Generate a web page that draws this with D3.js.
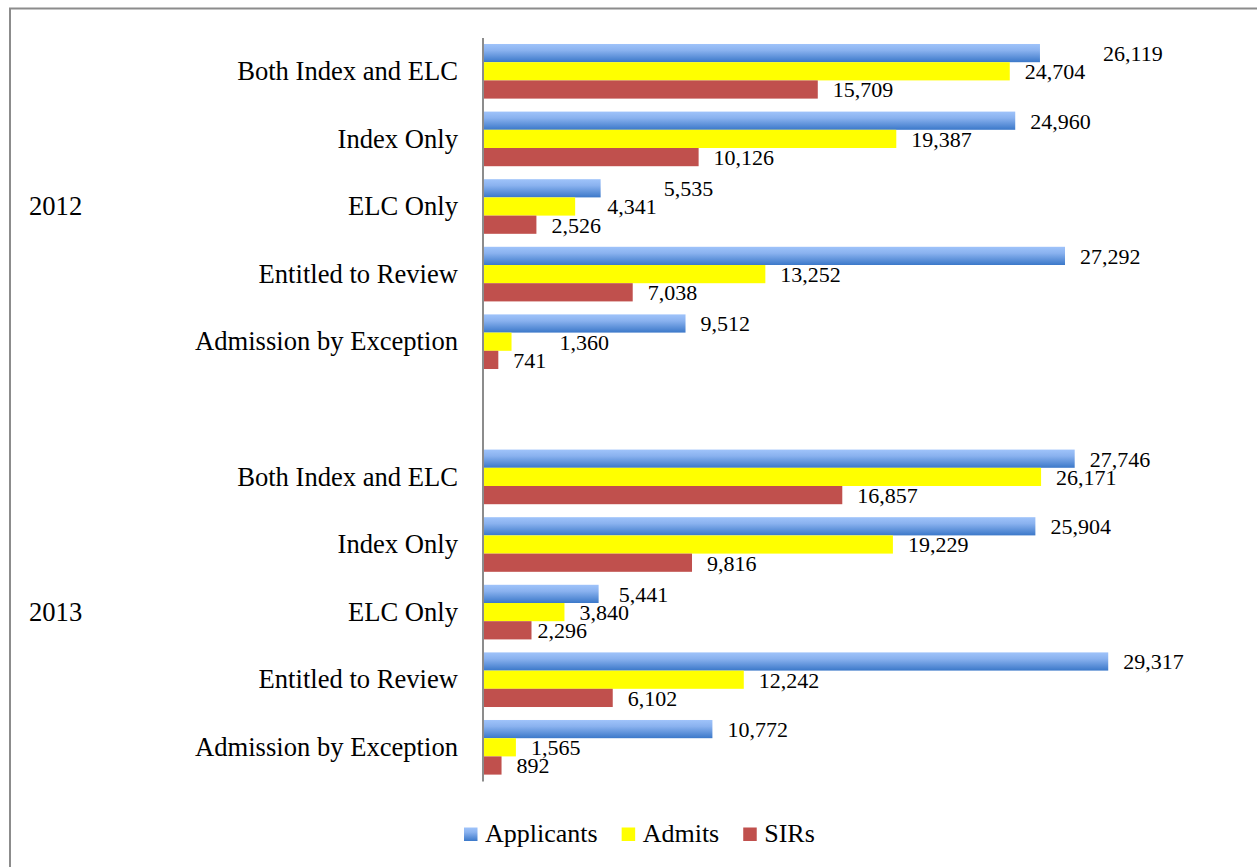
<!DOCTYPE html>
<html>
<head>
<meta charset="utf-8">
<script src="https://cdn.jsdelivr.net/npm/d3@7"></script>
<style>
  html, body { margin: 0; padding: 0; background: #fff; }
  svg { display: block; }
  text { font-family: "Liberation Serif", "Times New Roman", serif; fill: #000; }
</style>
</head>
<body>
<svg id="chart" width="1257" height="867"></svg>
<script>
// ---- data ----
const groups = ["2012", "2013"];
const categories = ["Both Index and ELC", "Index Only", "ELC Only", "Entitled to Review", "Admission by Exception"];
const seriesNames = ["Applicants", "Admits", "SIRs"];

const applicants2012 = [26119, 24960, 5535, 27292, 9512];
const admits2012     = [24704, 19387, 4341, 13252, 1360];
const sirs2012       = [15709, 10126, 2526, 7038, 741];

const applicants2013 = [27746, 25904, 5441, 29317, 10772];
const admits2013     = [26171, 19229, 3840, 12242, 1565];
const sirs2013       = [16857, 9816, 2296, 6102, 892];

const valuesByGroup = {
  "2012": [applicants2012, admits2012, sirs2012],
  "2013": [applicants2013, admits2013, sirs2013]
};

// ---- build rows ----
const slotKeys = [];
categories.forEach(c => slotKeys.push("2012|" + c));
slotKeys.push("gap|");
categories.forEach(c => slotKeys.push("2013|" + c));

const rows = [];
groups.forEach(g => {
  categories.forEach((c, i) => {
    seriesNames.forEach((s, j) => {
      rows.push({ group: g, category: c, series: s, value: valuesByGroup[g][j][i], key: g + "|" + c });
    });
  });
});

// manual label adjustments (as in the original chart, where some labels were dragged)
const labelNudges = {
  "2012|Both Index and ELC|Applicants": 48,
  "2012|ELC Only|Applicants": 48,
  "2012|ELC Only|Admits": 17,
  "2012|Admission by Exception|Admits": 33,
  "2013|ELC Only|Applicants": 5,
  "2013|ELC Only|SIRs": -9
};

// ---- layout ----
const svg = d3.select("#chart");

// outer frame
svg.append("rect")
  .attr("x", 10).attr("y", 8.5)
  .attr("width", 1300).attr("height", 900)
  .attr("fill", "none").attr("stroke", "#8c8c8c").attr("stroke-width", 2);

const x = d3.scaleLinear().domain([0, 30000]).range([482.5, 1122.8]);
const y = d3.scaleBand().domain(slotKeys).range([37.5, 781.1]).paddingInner(0.192).paddingOuter(0.096);
const ySub = d3.scaleBand().domain(seriesNames).range([0, y.bandwidth()]);

const defs = svg.append("defs");
const grad = defs.append("linearGradient").attr("id", "blueGrad")
  .attr("x1", 0).attr("y1", 0).attr("x2", 0).attr("y2", 1);
grad.append("stop").attr("offset", "0%").attr("stop-color", "#9fc3fa");
grad.append("stop").attr("offset", "35%").attr("stop-color", "#8ab2ef");
grad.append("stop").attr("offset", "100%").attr("stop-color", "#3b78c9");

const color = d3.scaleOrdinal().domain(seriesNames).range(["url(#blueGrad)", "#ffff00", "#c0504d"]);

// bars
svg.append("g").selectAll("rect")
  .data(rows)
  .join("rect")
  .attr("x", x(0))
  .attr("y", d => y(d.key) + ySub(d.series))
  .attr("width", d => x(d.value) - x(0))
  .attr("height", ySub.bandwidth())
  .attr("fill", d => color(d.series));

// value labels
const fmt = d3.format(",");
svg.append("g").selectAll("text")
  .data(rows)
  .join("text")
  .attr("x", d => x(d.value) + 15 + (labelNudges[d.group + "|" + d.category + "|" + d.series] || 0))
  .attr("y", d => y(d.key) + ySub(d.series) + ySub.bandwidth() / 2)
  .attr("dy", "0.36em")
  .style("font-size", "22px")
  .text(d => fmt(d.value));

// category axis
const yAxis = d3.axisLeft(y)
  .tickSize(0)
  .tickSizeOuter(0)
  .tickPadding(24.5)
  .tickFormat(k => k.split("|")[1]);

const axisG = svg.append("g")
  .attr("transform", `translate(${x(0)},0)`)
  .call(yAxis);
axisG.select(".domain").attr("stroke", "#8c8c8c").attr("stroke-width", 2);
axisG.selectAll(".tick text")
  .attr("dy", "0.33em")
  .style("font-family", "'Liberation Serif', 'Times New Roman', serif")
  .style("font-size", "26.6px")
  .attr("fill", "#000");

// group labels
svg.append("g").selectAll("text")
  .data(groups)
  .join("text")
  .attr("x", 29)
  .attr("y", g => y(g + "|" + categories[2]) + y.bandwidth() / 2)
  .attr("dy", "0.33em")
  .style("font-size", "26.6px")
  .text(g => g);

// legend
const legend = svg.append("g").attr("transform", "translate(464,0)");
let lx = 0;
seriesNames.forEach(s => {
  const item = legend.append("g").attr("transform", `translate(${lx},0)`);
  item.append("rect")
    .attr("x", 0).attr("y", 827.5)
    .attr("width", 13.5).attr("height", 13.5)
    .attr("fill", color(s));
  const t = item.append("text")
    .attr("x", 21).attr("y", 842)
    .style("font-size", "26px")
    .text(s);
  const w = t.node().getComputedTextLength();
  lx += 21 + w + 24;
});
</script>
</body>
</html>
